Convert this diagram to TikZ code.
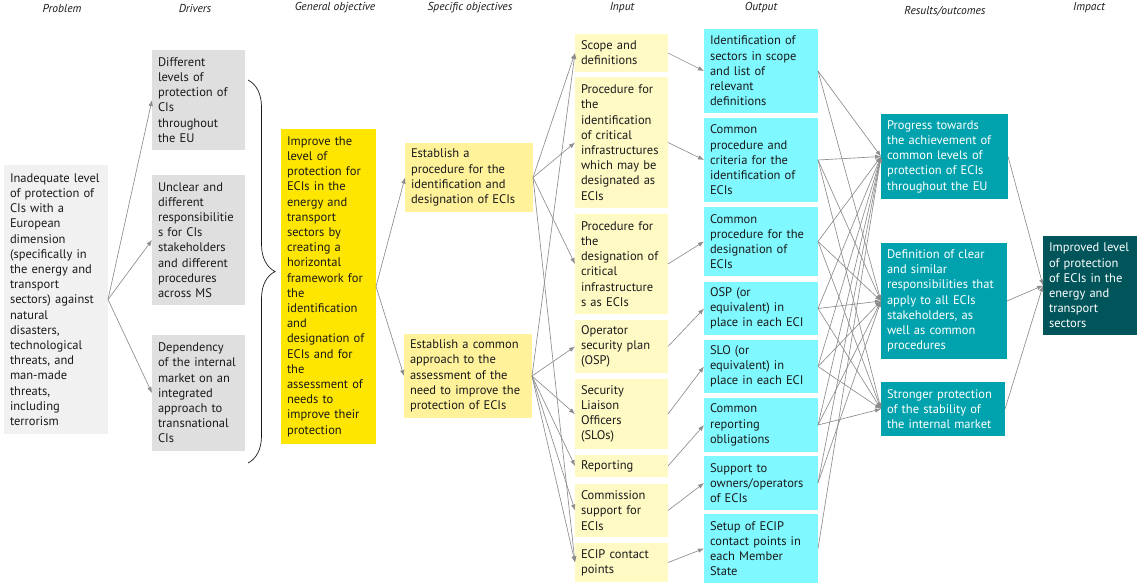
\documentclass[tikz,border=0pt]{standalone}
\usepackage{fontspec}
\setmainfont{PT Sans}
\usetikzlibrary{arrows.meta,decorations.pathreplacing}

\definecolor{probgray}{HTML}{F1F1F1}
\definecolor{drvgray}{HTML}{DFDFDF}
\definecolor{goyellow}{HTML}{FFE600}
\definecolor{soyellow}{HTML}{FFF29B}
\definecolor{inyellow}{HTML}{FFF9C4}
\definecolor{outcyan}{HTML}{7FF9FF}
\definecolor{resteal}{HTML}{00A3AD}
\definecolor{impteal}{HTML}{00555A}
\definecolor{arrgray}{HTML}{8C8C8C}
\definecolor{txtdark}{HTML}{1A1A1A}

\tikzstyle{box}=[anchor=north west,align=left,inner xsep=6pt,inner ysep=3pt,outer sep=0pt,text=txtdark,font=\fontsize{12.5}{15.2}\selectfont]
\tikzstyle{probbox}=[box,fill=probgray]
\tikzstyle{drvbox}=[box,fill=drvgray]
\tikzstyle{gobox}=[box,fill=goyellow]
\tikzstyle{sobox}=[box,fill=soyellow]
\tikzstyle{inbox}=[box,fill=inyellow]
\tikzstyle{outbox}=[box,fill=outcyan]
\tikzstyle{resbox}=[box,fill=resteal,text=white]
\tikzstyle{impbox}=[box,fill=impteal,text=white]
\tikzstyle{colhead}=[font=\fontsize{11.5}{13}\selectfont\itshape,text=txtdark,inner sep=0pt]
\tikzstyle{arr}=[draw=arrgray,line width=0.65pt,-{Latex[length=6pt,width=4.5pt]}]

\begin{document}
\begin{tikzpicture}[x=1pt,y=-1pt]
    \useasboundingbox (0,0) rectangle (1137,584);

    % column headings
    \node[colhead] (h1) at (62,8) {Problem};
    \node[colhead] (h2) at (195,8) {Drivers};
    \node[colhead] (h3) at (335,8) {General objective};
    \node[colhead] (h4) at (470,8) {Specific objectives};
    \node[colhead] (h5) at (622,8) {Input};
    \node[colhead] (h6) at (761,8) {Output};
    \node[colhead] (h7) at (945,11) {Results/outcomes};
    \node[colhead] (h8) at (1089,8) {Impact};

    % problem and drivers
    \node[probbox,text width=92pt,minimum height=269pt] (prob) at (4,165) {Inadequate level\\of protection of\\CIs with a\\European\\dimension\\(specifically in\\the energy and\\transport\\sectors) against\\natural\\disasters,\\technological\\threats, and\\man-made\\threats,\\including\\terrorism};
    \node[drvbox,text width=81pt,minimum height=100pt] (d1) at (152,50) {Different\\levels of\\protection of\\CIs\\throughout\\the EU};
    \node[drvbox,text width=81pt,minimum height=130pt] (d2) at (152,175) {Unclear and\\different\\responsibilitie\\s for CIs\\stakeholders\\and different\\procedures\\across MS};
    \node[drvbox,text width=81pt,minimum height=116pt] (d3) at (152,335) {Dependency\\of the internal\\market on an\\integrated\\approach to\\transnational\\CIs};

    % objectives
    \node[gobox,text width=83pt,minimum height=315pt] (go) at (281,129) {Improve the\\level of\\protection for\\ECIs in the\\energy and\\transport\\sectors by\\creating a\\horizontal\\framework for\\the\\identification\\and\\designation of\\ECIs and for\\the\\assessment of\\needs to\\improve their\\protection};
    \node[sobox,text width=116pt,minimum height=69pt] (so1) at (405,143) {Establish a\\procedure for the\\identification and\\designation of ECIs};
    \node[sobox,text width=116pt,minimum height=84pt] (so2) at (404,334) {Establish a common\\approach to the\\assessment of the\\need to improve the\\protection of ECIs};

    % input
    \node[inbox,text width=81pt,minimum height=38pt] (i1) at (575,34) {Scope and\\definitions};
    \node[inbox,text width=81pt,minimum height=131pt] (i2) at (575,77) {Procedure for\\the\\identification\\of critical\\infrastructures\\which may be\\designated as\\ECIs};
    \node[inbox,text width=81pt,minimum height=100pt] (i3) at (575,214) {Procedure for\\the\\designation of\\critical\\infrastructure\\s as ECIs};
    \node[inbox,text width=81pt,minimum height=53pt] (i4) at (575,320) {Operator\\security plan\\(OSP)};
    \node[inbox,text width=81pt,minimum height=70pt] (i5) at (575,379) {Security\\Liaison\\Officers\\(SLOs)};
    \node[inbox,text width=81pt,minimum height=22pt] (i6) at (575,455) {Reporting};
    \node[inbox,text width=81pt,minimum height=53pt] (i7) at (575,484) {Commission\\support for\\ECIs};
    \node[inbox,text width=81pt,minimum height=39pt] (i8) at (575,543) {ECIP contact\\points};

    % output
    \node[outbox,text width=102pt,minimum height=84pt] (o1) at (704,29) {Identification of\\sectors in scope\\and list of\\relevant\\definitions};
    \node[outbox,text width=102pt,minimum height=84pt] (o2) at (704,118) {Common\\procedure and\\criteria for the\\identification of\\ECIs};
    \node[outbox,text width=102pt,minimum height=69pt] (o3) at (704,207) {Common\\procedure for the\\designation of\\ECIs};
    \node[outbox,text width=102pt,minimum height=53pt] (o4) at (704,282) {OSP (or\\equivalent) in\\place in each ECI};
    \node[outbox,text width=102pt,minimum height=53pt] (o5) at (704,340) {SLO (or\\equivalent) in\\place in each ECI};
    \node[outbox,text width=102pt,minimum height=54pt] (o6) at (704,398) {Common\\reporting\\obligations};
    \node[outbox,text width=102pt,minimum height=54pt] (o7) at (704,456) {Support to\\owners/operators\\of ECIs};
    \node[outbox,text width=102pt,minimum height=69pt] (o8) at (704,514) {Setup of ECIP\\contact points in\\each Member\\State};

    % results and impact
    \node[resbox,text width=115pt,minimum height=85pt] (r1) at (881,114) {Progress towards\\the achievement of\\common levels of\\protection of ECIs\\throughout the EU};
    \node[resbox,text width=114pt,minimum height=116pt] (r2) at (881,243) {Definition of clear\\and similar\\responsibilities that\\apply to all ECIs\\stakeholders, as\\well as common\\procedures};
    \node[resbox,text width=112pt,minimum height=54pt] (r3) at (881,382) {Stronger protection\\of the stability of\\the internal market};
    \node[impbox,text width=82pt,minimum height=99pt] (imp) at (1043,236) {Improved level\\of protection\\of ECIs in the\\energy and\\transport\\sectors};

    % brace
    \draw[decorate,decoration={brace,amplitude=27pt},line width=0.7pt,draw=txtdark] (248,80) -- (248,463);

    \foreach \to in {d1,d2,d3}
    \draw[arr] (prob.east) -- (\to.west);
    \foreach \to in {so1,so2}
    \draw[arr] (go.east) -- (\to.west);
    \foreach \from/\to in {so1/i1,so1/i2,so1/i3,so1/i8,so2/i1,so2/i4,so2/i5,so2/i6,so2/i7,so2/i8}
    \draw[arr] (\from.east) -- (\to.west);
    \foreach \n in {1,...,8}
    \draw[arr] (i\n.east) -- (o\n.west);
    \foreach \from/\to in {o1/r1,o1/r2,o2/r1,o2/r2,o2/r3,o3/r1,o3/r2,o3/r3,o4/r1,o4/r2,o4/r3,o5/r1,o5/r2,o5/r3,o6/r1,o6/r2,o6/r3,o7/r1,o7/r2,o8/r1}
    \draw[arr] (\from.east) -- (\to.west);
    \foreach \from in {r1,r2,r3}
    \draw[arr] (\from.east) -- (imp.west);
\end{tikzpicture}
\end{document}
